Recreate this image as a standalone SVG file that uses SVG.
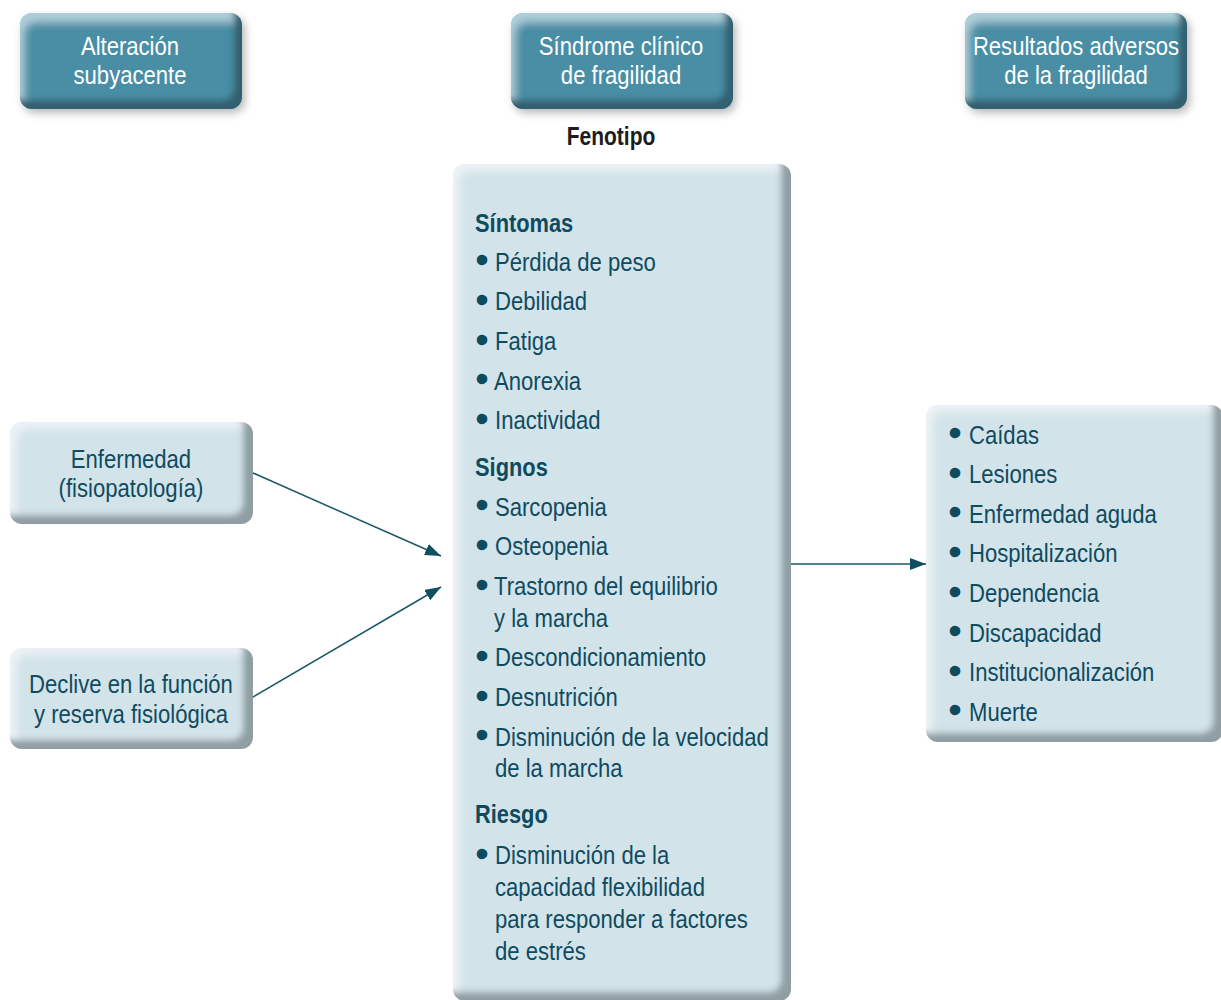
<svg xmlns="http://www.w3.org/2000/svg" width="1221" height="1000" viewBox="0 0 1221 1000">
  <defs>
    <style>
      .t { font-family: "Liberation Sans", Arial, sans-serif; font-size: 26px; fill: #0e4b5f; }
      .w { fill: #ffffff; }
      .bd { font-weight: bold; }
      .c { text-anchor: middle; }
      .blt { font-family: "Liberation Sans", Arial, sans-serif; font-size: 30px; fill: #0e4b5f; stroke: #0e4b5f; stroke-width: 2.4; text-anchor: middle; }
      .hdr { fill: #4a8ea4; filter: url(#bevelDark); }
      .box { fill: #d3e3ea; filter: url(#bevelLight); }
      .link { stroke: #1a5668; stroke-width: 1.5; fill: none; marker-end: url(#arrow); }
    </style>
    <!-- raised look for the pale boxes: grey band bottom/right, soft highlight top/left -->
    <filter id="bevelLight" x="-5%" y="-5%" width="110%" height="110%">
      <feOffset in="SourceAlpha" dx="-10" dy="-9" result="sh"/>
      <feGaussianBlur in="sh" stdDeviation="3" result="shb"/>
      <feComposite in="SourceAlpha" in2="shb" operator="out" result="dark"/>
      <feFlood flood-color="#8f9ea3"/>
      <feComposite in2="dark" operator="in" result="darkc"/>
      <feOffset in="SourceAlpha" dx="6" dy="6" result="hl"/>
      <feGaussianBlur in="hl" stdDeviation="4" result="hlb"/>
      <feComposite in="SourceAlpha" in2="hlb" operator="out" result="light"/>
      <feFlood flood-color="#ffffff" flood-opacity="0.55"/>
      <feComposite in2="light" operator="in" result="lightc"/>
      <feMerge>
        <feMergeNode in="SourceGraphic"/>
        <feMergeNode in="lightc"/>
        <feMergeNode in="darkc"/>
      </feMerge>
    </filter>
    <!-- raised look for the teal title boxes, with a soft drop shadow -->
    <filter id="bevelDark" x="-10%" y="-20%" width="125%" height="150%">
      <feGaussianBlur in="SourceAlpha" stdDeviation="4" result="blur"/>
      <feOffset in="blur" dx="3" dy="4" result="ob"/>
      <feFlood flood-color="#000000" flood-opacity="0.28"/>
      <feComposite in2="ob" operator="in" result="shadow"/>
      <feOffset in="SourceAlpha" dx="-8" dy="-9" result="sh"/>
      <feGaussianBlur in="sh" stdDeviation="3" result="shb"/>
      <feComposite in="SourceAlpha" in2="shb" operator="out" result="dark"/>
      <feFlood flood-color="#33606f"/>
      <feComposite in2="dark" operator="in" result="darkc"/>
      <feOffset in="SourceAlpha" dx="4" dy="9" result="hl"/>
      <feGaussianBlur in="hl" stdDeviation="4" result="hlb"/>
      <feComposite in="SourceAlpha" in2="hlb" operator="out" result="light"/>
      <feFlood flood-color="#c4e0e8" flood-opacity="0.75"/>
      <feComposite in2="light" operator="in" result="lightc"/>
      <feMerge>
        <feMergeNode in="shadow"/>
        <feMergeNode in="SourceGraphic"/>
        <feMergeNode in="lightc"/>
        <feMergeNode in="darkc"/>
      </feMerge>
    </filter>
    <marker id="arrow" markerUnits="userSpaceOnUse" markerWidth="18" markerHeight="12" refX="16" refY="6" orient="auto">
      <path d="M0,0 L16,6 L0,12 Z" fill="#0f4f62"/>
    </marker>
  </defs>

  <rect width="1221" height="1000" fill="#ffffff"/>

  <!-- column titles -->
  <g id="title-alteracion">
    <rect class="hdr" x="20" y="13" width="222" height="96" rx="12"/>
    <text class="t w c" transform="translate(130,55) scale(0.85,1)">Alteración</text>
    <text class="t w c" transform="translate(130,84) scale(0.85,1)">subyacente</text>
  </g>
  <g id="title-sindrome">
    <rect class="hdr" x="511" y="13" width="222" height="96" rx="12"/>
    <text class="t w c" transform="translate(621,55) scale(0.85,1)">Síndrome clínico</text>
    <text class="t w c" transform="translate(621,84) scale(0.85,1)">de fragilidad</text>
  </g>
  <g id="title-resultados">
    <rect class="hdr" x="965" y="13" width="222" height="96" rx="12"/>
    <text class="t w c" transform="translate(1076,55) scale(0.85,1)">Resultados adversos</text>
    <text class="t w c" transform="translate(1076,84) scale(0.85,1)">de la fragilidad</text>
  </g>

  <g id="label-fenotipo">
    <text class="t bd c" style="fill:#1c1c1c;font-size:25px" transform="translate(611,145) scale(0.84,1)">Fenotipo</text>
  </g>

  <!-- causes -->
  <g id="node-enfermedad">
    <rect class="box" x="10" y="422" width="243" height="102" rx="12"/>
    <text class="t c" transform="translate(131,468) scale(0.85,1)">Enfermedad</text>
    <text class="t c" transform="translate(131,497) scale(0.85,1)">(fisiopatología)</text>
  </g>
  <g id="node-declive">
    <rect class="box" x="10" y="648" width="243" height="101" rx="12"/>
    <text class="t c" transform="translate(131,693) scale(0.85,1)">Declive en la función</text>
    <text class="t c" transform="translate(131,723) scale(0.85,1)">y reserva fisiológica</text>
  </g>

  <!-- phenotype -->
  <g id="node-fenotipo">
    <rect class="box" x="453" y="164" width="338" height="837" rx="12"/>
    <text class="t bd" transform="translate(475,231.5) scale(0.84,1)">Síntomas</text>
    <text class="blt" x="482" y="270">•</text>
    <text class="t" transform="translate(495,270.5) scale(0.85,1)">Pérdida de peso</text>
    <text class="blt" x="482" y="309.5">•</text>
    <text class="t" transform="translate(495,310) scale(0.85,1)">Debilidad</text>
    <text class="blt" x="482" y="349.5">•</text>
    <text class="t" transform="translate(495,350) scale(0.85,1)">Fatiga</text>
    <text class="blt" x="482" y="389">•</text>
    <text class="t" transform="translate(494,389.5) scale(0.85,1)">Anorexia</text>
    <text class="blt" x="482" y="428.5">•</text>
    <text class="t" transform="translate(495,429) scale(0.85,1)">Inactividad</text>

    <text class="t bd" transform="translate(475,476) scale(0.84,1)">Signos</text>
    <text class="blt" x="482" y="515">•</text>
    <text class="t" transform="translate(495,515.5) scale(0.85,1)">Sarcopenia</text>
    <text class="blt" x="482" y="554.5">•</text>
    <text class="t" transform="translate(495,555) scale(0.85,1)">Osteopenia</text>
    <text class="blt" x="482" y="594.5">•</text>
    <text class="t" transform="translate(494,595) scale(0.85,1)">Trastorno del equilibrio</text>
    <text class="t" transform="translate(494,626.5) scale(0.85,1)">y la marcha</text>
    <text class="blt" x="482" y="665.5">•</text>
    <text class="t" transform="translate(495,666) scale(0.85,1)">Descondicionamiento</text>
    <text class="blt" x="482" y="705.5">•</text>
    <text class="t" transform="translate(495,706) scale(0.85,1)">Desnutrición</text>
    <text class="blt" x="482" y="745">•</text>
    <text class="t" transform="translate(495,745.5) scale(0.85,1)">Disminución de la velocidad</text>
    <text class="t" transform="translate(495,777) scale(0.85,1)">de la marcha</text>

    <text class="t bd" transform="translate(475,823) scale(0.84,1)">Riesgo</text>
    <text class="blt" x="482" y="863.5">•</text>
    <text class="t" transform="translate(495,864) scale(0.85,1)">Disminución de la</text>
    <text class="t" transform="translate(495,896) scale(0.85,1)">capacidad flexibilidad</text>
    <text class="t" transform="translate(495,928) scale(0.85,1)">para responder a factores</text>
    <text class="t" transform="translate(495,960) scale(0.85,1)">de estrés</text>
  </g>

  <!-- outcomes -->
  <g id="node-resultados">
    <rect class="box" x="926" y="405" width="297" height="337" rx="12"/>
    <text class="blt" x="955" y="443">•</text>
    <text class="t" transform="translate(969,443.5) scale(0.85,1)">Caídas</text>
    <text class="blt" x="955" y="482.5">•</text>
    <text class="t" transform="translate(969,483) scale(0.85,1)">Lesiones</text>
    <text class="blt" x="955" y="522.2">•</text>
    <text class="t" transform="translate(969,522.7) scale(0.85,1)">Enfermedad aguda</text>
    <text class="blt" x="955" y="561.8">•</text>
    <text class="t" transform="translate(969,562.3) scale(0.85,1)">Hospitalización</text>
    <text class="blt" x="955" y="601.5">•</text>
    <text class="t" transform="translate(969,602) scale(0.85,1)">Dependencia</text>
    <text class="blt" x="955" y="641">•</text>
    <text class="t" transform="translate(969,641.5) scale(0.85,1)">Discapacidad</text>
    <text class="blt" x="955" y="680.5">•</text>
    <text class="t" transform="translate(969,681) scale(0.85,1)">Institucionalización</text>
    <text class="blt" x="955" y="720.2">•</text>
    <text class="t" transform="translate(969,720.7) scale(0.85,1)">Muerte</text>
  </g>

  <!-- connectors -->
  <g id="connectors">
    <line class="link" x1="253" y1="473" x2="441" y2="556"/>
    <line class="link" x1="253" y1="697" x2="441" y2="587"/>
    <line class="link" x1="791" y1="564" x2="926" y2="564"/>
  </g>
</svg>
